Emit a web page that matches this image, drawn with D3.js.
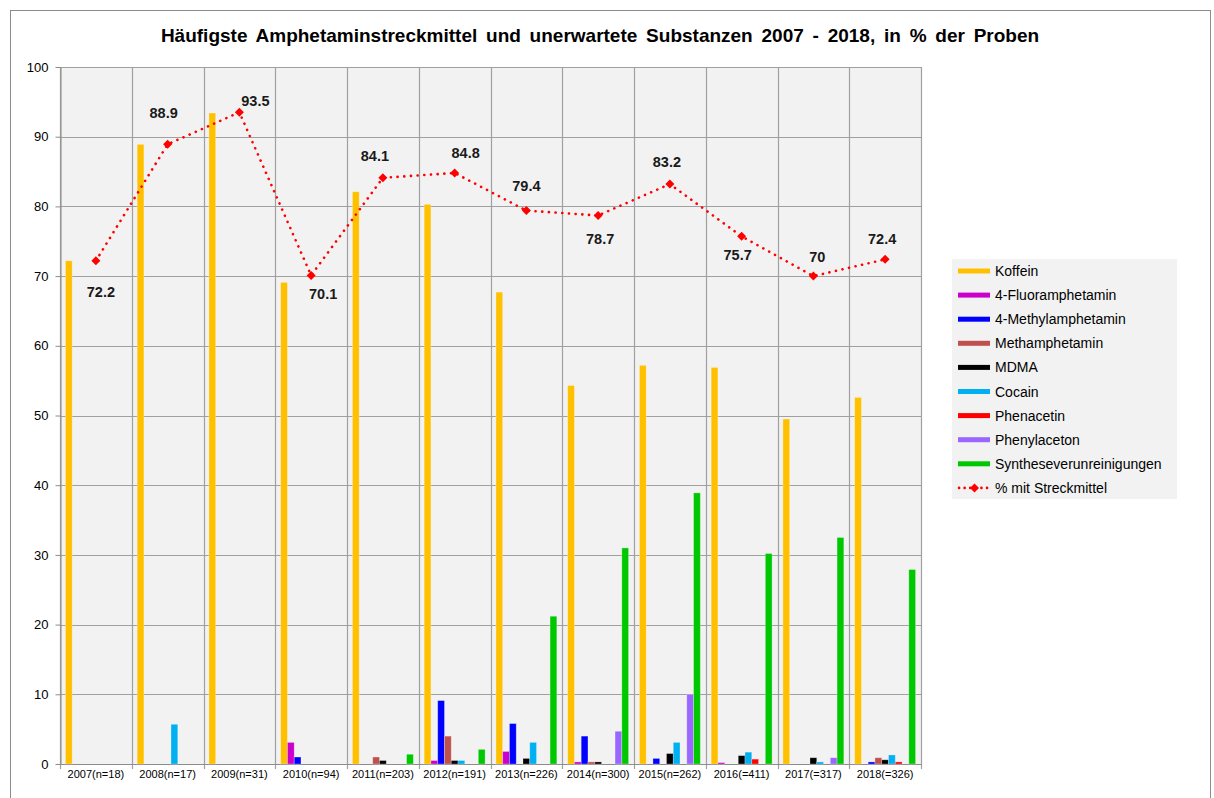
<!DOCTYPE html>
<html>
<head>
<meta charset="utf-8">
<script src="https://cdn.jsdelivr.net/npm/d3@7"></script>
<style>
  body { margin: 0; background: #fff; }
  svg text { font-family: "Liberation Sans", Arial, sans-serif; }
</style>
</head>
<body>
<svg id="chart" width="1214" height="798"></svg>
<script>
// Categories (years with sample size)
const categories = ["2007(n=18)", "2008(n=17)", "2009(n=31)", "2010(n=94)", "2011(n=203)", "2012(n=191)",
  "2013(n=226)", "2014(n=300)", "2015(n=262)", "2016(=411)", "2017(=317)", "2018(=326)"];

// Bar series, % of samples
const koffein        = [72.2, 88.9, 93.4, 69.1, 82.1, 80.3, 67.7, 54.3, 57.2, 56.9, 49.5, 52.6];
const fluoramphetamin = [0, 0, 0, 3.1, 0, 0.5, 1.8, 0.3, 0, 0.2, 0, 0];
const methylamphetamin = [0, 0, 0, 1.0, 0, 9.1, 5.8, 4.0, 0.8, 0, 0, 0.3];
const methamphetamin = [0, 0, 0, 0, 1.0, 4.0, 0, 0.3, 0, 0, 0, 0.9];
const mdma           = [0, 0, 0, 0, 0.5, 0.5, 0.8, 0.3, 1.5, 1.2, 0.9, 0.6];
const cocain         = [0, 5.7, 0, 0, 0, 0.5, 3.1, 0, 3.1, 1.7, 0.3, 1.3];
const phenacetin     = [0, 0, 0, 0, 0, 0, 0, 0, 0, 0.7, 0, 0.3];
const phenylaceton   = [0, 0, 0, 0, 0, 0, 0, 4.7, 10.0, 0, 0.9, 0];
const synthese       = [0, 0, 0, 0, 1.4, 2.1, 21.2, 31.0, 38.9, 30.2, 32.5, 27.9];

// Line series
const streckmittel = [72.2, 88.9, 93.5, 70.1, 84.1, 84.8, 79.4, 78.7, 83.2, 75.7, 70, 72.4];

const seriesNames = ["Koffein", "4-Fluoramphetamin", "4-Methylamphetamin", "Methamphetamin", "MDMA",
  "Cocain", "Phenacetin", "Phenylaceton", "Syntheseverunreinigungen"];
const seriesValues = [koffein, fluoramphetamin, methylamphetamin, methamphetamin, mdma,
  cocain, phenacetin, phenylaceton, synthese];
const lineName = "% mit Streckmittel";
const yTicks = [0, 10, 20, 30, 40, 50, 60, 70, 80, 90, 100];

const colors = ["#ffc000", "#cc00cc", "#0000ff", "#c0504d", "#000000", "#00b0f0", "#ff0000", "#9966ff", "#00c800"];

const svg = d3.select("#chart");

// outer chart frame
svg.append("rect")
  .attr("x", 10.5).attr("y", 10.5)
  .attr("width", 1200).attr("height", 800)
  .attr("fill", "#fff").attr("stroke", "#8c8c8c");

const plot = { left: 60, right: 921, top: 67, bottom: 764 };

const x0 = d3.scaleBand().domain(categories).range([plot.left, plot.right]);
const x1 = d3.scaleBand().domain(seriesNames).range([0, x0.bandwidth()]).paddingOuter(0.8);
const y = d3.scaleLinear().domain([0, 100]).range([plot.bottom, plot.top]);

// plot background
svg.append("rect")
  .attr("x", plot.left).attr("y", plot.top)
  .attr("width", plot.right - plot.left).attr("height", plot.bottom - plot.top)
  .attr("fill", "#f2f2f2");

// gridlines
svg.append("g").selectAll("line")
  .data(yTicks)
  .join("line")
  .attr("x1", plot.left).attr("x2", plot.right)
  .attr("y1", d => Math.round(y(d)) + 0.5).attr("y2", d => Math.round(y(d)) + 0.5)
  .attr("stroke", "#a0a0a0").attr("stroke-width", 1.2);

const bounds = categories.map(c => x0(c)).concat([plot.right]);
svg.append("g").selectAll("line")
  .data(bounds)
  .join("line")
  .attr("x1", d => Math.round(d) + 0.5).attr("x2", d => Math.round(d) + 0.5)
  .attr("y1", plot.top).attr("y2", plot.bottom + 5)
  .attr("stroke", "#a0a0a0").attr("stroke-width", 1.2);

// y axis
const yAxis = svg.append("g")
  .attr("transform", `translate(${plot.left + 0.5},0)`)
  .call(d3.axisLeft(y).tickValues(yTicks).tickSize(5).tickSizeOuter(0));
yAxis.select(".domain").attr("stroke", "#8c8c8c");
yAxis.selectAll(".tick line").attr("stroke", "#8c8c8c");
yAxis.selectAll(".tick text")
  .attr("x", -12)
  .style("font-size", "13px").attr("fill", "#000");

// x axis (labels at band centres, ticks drawn with the gridlines)
const xAxis = svg.append("g")
  .attr("transform", `translate(0,${plot.bottom})`)
  .call(d3.axisBottom(x0).tickSize(0).tickSizeOuter(0));
xAxis.select(".domain").attr("stroke", "#8c8c8c");
xAxis.selectAll(".tick text")
  .attr("dy", "1em").attr("y", 3)
  .style("font-size", "11px").attr("fill", "#000");

// bars
const groups = svg.append("g").selectAll("g")
  .data(categories)
  .join("g")
  .attr("transform", d => `translate(${x0(d)},0)`);

groups.selectAll("rect")
  .data((c, i) => seriesNames.map((s, j) => ({ series: s, value: seriesValues[j][i], color: colors[j] })))
  .join("rect")
  .filter(d => d.value > 0)
  .attr("x", d => x1(d.series))
  .attr("y", d => y(d.value))
  .attr("width", x1.bandwidth())
  .attr("height", d => y(0) - y(d.value))
  .attr("fill", d => d.color)
  .attr("stroke", "rgba(255,255,255,0.35)")
  .attr("stroke-width", 0.8);

// line series
const lineData = categories.map((c, i) => ({ cat: c, value: streckmittel[i] }));
const cx = d => x0(d.cat) + x0.bandwidth() / 2;

svg.append("path")
  .datum(lineData)
  .attr("d", d3.line().x(cx).y(d => y(d.value)))
  .attr("fill", "none")
  .attr("stroke", "#ff0000")
  .attr("stroke-width", 2.6)
  .attr("stroke-linecap", "round")
  .attr("stroke-dasharray", "0.1 6.6");

const diamond = "M0,-4.5L4.5,0L0,4.5L-4.5,0Z";
svg.append("g").selectAll("path")
  .data(lineData)
  .join("path")
  .attr("transform", d => `translate(${cx(d)},${y(d.value)})`)
  .attr("d", diamond)
  .attr("fill", "#ff0000");

// data label placement relative to each point (manual, as in the original)
const labelOffset = [[5, 31], [-4, -32], [16, -12], [12, 18], [-8, -22], [11, -20],
  [0, -25], [2, 23], [-3, -22], [-4, 18], [4, -19], [-3, -21]];

svg.append("g").selectAll("text")
  .data(lineData)
  .join("text")
  .attr("x", (d, i) => cx(d) + labelOffset[i][0])
  .attr("y", (d, i) => y(d.value) + labelOffset[i][1])
  .attr("dy", "0.36em")
  .attr("text-anchor", "middle")
  .style("font-size", "14.5px")
  .style("font-weight", "bold")
  .attr("fill", "#1a1a1a")
  .text(d => d.value);

// title
svg.append("text")
  .attr("x", 600)
  .attr("y", 42)
  .attr("text-anchor", "middle")
  .style("font-size", "19px")
  .style("font-weight", "bold")
  .style("word-spacing", "3.5px")
  .attr("fill", "#000")
  .text("Häufigste Amphetaminstreckmittel und unerwartete Substanzen 2007 - 2018, in % der Proben");

// legend
const legend = svg.append("g").attr("transform", "translate(952,259)");
legend.append("rect")
  .attr("width", 225).attr("height", 240)
  .attr("fill", "#f2f2f2");

const legendItems = seriesNames.concat([lineName]);
const item = legend.selectAll("g.item")
  .data(legendItems)
  .join("g")
  .attr("class", "item")
  .attr("transform", (d, i) => `translate(0,${12 + i * 24.1})`);

item.filter((d, i) => i < seriesNames.length)
  .append("rect")
  .attr("x", 6).attr("y", -2.5)
  .attr("width", 32).attr("height", 5)
  .attr("fill", (d, i) => colors[i]);

const lineItem = item.filter(d => d === lineName);
lineItem.append("line")
  .attr("x1", 7).attr("x2", 38)
  .attr("stroke", "#ff0000").attr("stroke-width", 2.6)
  .attr("stroke-linecap", "round")
  .attr("stroke-dasharray", "0.1 5.5");
lineItem.append("path")
  .attr("transform", "translate(22.5,0)")
  .attr("d", diamond)
  .attr("fill", "#ff0000");

item.append("text")
  .attr("x", 43)
  .attr("dy", "0.36em")
  .style("font-size", "14px")
  .attr("fill", "#000")
  .text(d => d);
</script>
</body>
</html>
